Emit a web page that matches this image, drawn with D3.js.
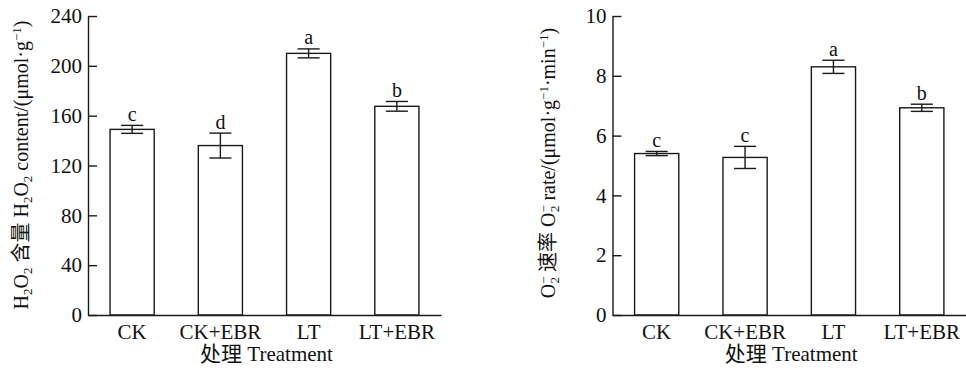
<!DOCTYPE html>
<html>
<head>
<meta charset="utf-8">
<script src="https://cdn.jsdelivr.net/npm/d3@7"></script>
<style>
  body { margin: 0; background: #fff; }
  svg { display: block; }
  text { font-family: "Liberation Serif", "Times New Roman", "Noto Sans CJK SC", serif; fill: #111; }
</style>
</head>
<body>
<div id="chart"></div>
<script>
// data
var categories = ["CK", "CK+EBR", "LT", "LT+EBR"];

var h2o2Values = [149, 136, 210, 167.5];
var h2o2Errors = [3.2, 10, 3.6, 3.9];
var h2o2Letters = ["c", "d", "a", "b"];
var h2o2Ticks = [0, 40, 80, 120, 160, 200, 240];

var o2Values = [5.4, 5.27, 8.3, 6.93];
var o2Errors = [0.07, 0.37, 0.22, 0.12];
var o2Letters = ["c", "c", "a", "b"];
var o2Ticks = [0, 2, 4, 6, 8, 10];

var xTitle = "处理 Treatment";

var W = 966, H = 372;
var ink = "#1a1a1a";
var fs = 21;

var svg = d3.select("#chart").append("svg")
    .attr("width", W)
    .attr("height", H);

function panel(opts) {
  var g = svg.append("g");

  var x = d3.scaleBand()
      .domain(categories)
      .range([opts.left, opts.right])
      .paddingInner(0.5)
      .paddingOuter(0.25);

  var y = d3.scaleLinear()
      .domain([0, opts.max])
      .range([opts.bottom, opts.top]);

  var rows = categories.map(function(c, i) {
    return { cat: c, v: opts.values[i], e: opts.errors[i], l: opts.letters[i] };
  });

  // bars
  g.selectAll(".bar").data(rows).enter().append("rect")
      .attr("x", d => x(d.cat))
      .attr("y", d => y(d.v))
      .attr("width", x.bandwidth())
      .attr("height", d => y(0) - y(d.v))
      .attr("fill", "#fff")
      .attr("stroke", ink)
      .attr("stroke-width", 1.4);

  // error bars
  var cap = x.bandwidth() / 4;
  var eb = g.selectAll(".err").data(rows).enter().append("g")
      .attr("stroke", ink)
      .attr("stroke-width", 1.4);
  eb.append("line")
      .attr("x1", d => x(d.cat) + x.bandwidth() / 2)
      .attr("x2", d => x(d.cat) + x.bandwidth() / 2)
      .attr("y1", d => y(d.v + d.e))
      .attr("y2", d => y(d.v - d.e));
  eb.append("line")
      .attr("x1", d => x(d.cat) + x.bandwidth() / 2 - cap)
      .attr("x2", d => x(d.cat) + x.bandwidth() / 2 + cap)
      .attr("y1", d => y(d.v + d.e))
      .attr("y2", d => y(d.v + d.e));
  eb.append("line")
      .attr("x1", d => x(d.cat) + x.bandwidth() / 2 - cap)
      .attr("x2", d => x(d.cat) + x.bandwidth() / 2 + cap)
      .attr("y1", d => y(d.v - d.e))
      .attr("y2", d => y(d.v - d.e));

  // significance letters
  g.selectAll(".lab").data(rows).enter().append("text")
      .attr("x", d => x(d.cat) + x.bandwidth() / 2)
      .attr("y", d => y(d.v + d.e) - 4.5)
      .attr("text-anchor", "middle")
      .attr("font-size", 20)
      .text(d => d.l);

  // y axis, ticks pointing inward
  var ya = g.append("g")
      .attr("transform", "translate(" + opts.left + ",0)")
      .call(d3.axisLeft(y).tickValues(opts.ticks).tickSizeInner(-9).tickSizeOuter(0).tickPadding(6));
  ya.select(".domain").attr("stroke", ink).attr("stroke-width", 1.4);
  ya.selectAll(".tick line").attr("stroke", ink).attr("stroke-width", 1.4);
  ya.selectAll(".tick text")
      .attr("font-size", fs)
      .attr("font-family", "Liberation Serif, serif")
      .attr("fill", "#111");

  // x axis
  var xa = g.append("g")
      .attr("transform", "translate(0," + opts.bottom + ")")
      .call(d3.axisBottom(x).tickSize(0).tickPadding(9));
  xa.select(".domain").attr("stroke", ink).attr("stroke-width", 1.4);
  xa.selectAll(".tick text")
      .attr("font-size", fs)
      .attr("font-family", "Liberation Serif, serif")
      .attr("fill", "#111");

  g.append("text")
      .attr("x", (opts.left + opts.right) / 2 + 2)
      .attr("y", opts.bottom + 46)
      .attr("text-anchor", "middle")
      .attr("font-size", fs)
      .text(xTitle);

  // y title
  var yt = g.append("text")
      .attr("transform", "translate(" + opts.titleX + "," + opts.titleY + ") rotate(-90)")
      .attr("text-anchor", "middle")
      .attr("font-size", 20);
  opts.title(yt);
}

function sub(t, s) {
  t.append("tspan").attr("baseline-shift", -4).attr("font-size", 13).text(s);
}
function sup(t, s) {
  t.append("tspan").attr("baseline-shift", 7).attr("font-size", 13).text(s);
}
function o2radical(t) {
  t.append("tspan").text("O");
  sup(t, "\u2212");
  t.append("tspan").attr("dx", -7).attr("baseline-shift", -4).attr("font-size", 13).text("2");
}

panel({
  left: 88, right: 441, top: 16, bottom: 315, max: 240,
  values: h2o2Values, errors: h2o2Errors, letters: h2o2Letters, ticks: h2o2Ticks,
  titleX: 28, titleY: 165,
  title: function(t) {
    t.append("tspan").text("H");
    sub(t, "2");
    t.append("tspan").text("O");
    sub(t, "2");
    t.append("tspan").text(" 含量 H");
    sub(t, "2");
    t.append("tspan").text("O");
    sub(t, "2");
    t.append("tspan").text(" content/(μmol·g");
    sup(t, "\u22121");
    t.append("tspan").text(")");
  }
});

panel({
  left: 612.5, right: 966, top: 16, bottom: 315, max: 10,
  values: o2Values, errors: o2Errors, letters: o2Letters, ticks: o2Ticks,
  titleX: 555, titleY: 163,
  title: function(t) {
    o2radical(t);
    t.append("tspan").text(" 速率 ");
    o2radical(t);
    t.append("tspan").text(" rate/(μmol·g");
    sup(t, "\u22121");
    t.append("tspan").text("·min");
    sup(t, "\u22121");
    t.append("tspan").text(")");
  }
});
</script>
</body>
</html>
